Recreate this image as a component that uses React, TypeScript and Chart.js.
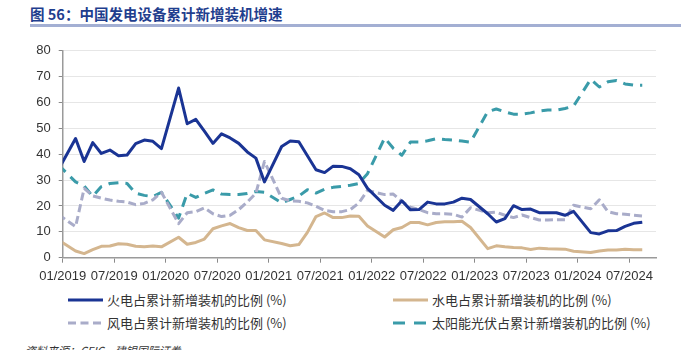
import React, { useEffect, useRef } from "react";
import { Chart, registerables } from "chart.js";

Chart.register(...registerables);

const title = "图 56：中国发电设备累计新增装机增速";
const source = "资料来源：CEIC，建银国际证券";

const months = [
  "2018-12",
  "2019-02", "2019-03", "2019-04", "2019-05", "2019-06", "2019-07", "2019-08", "2019-09", "2019-10", "2019-11", "2019-12",
  "2020-02", "2020-03", "2020-04", "2020-05", "2020-06", "2020-07", "2020-08", "2020-09", "2020-10", "2020-11", "2020-12",
  "2021-02", "2021-03", "2021-04", "2021-05", "2021-06", "2021-07", "2021-08", "2021-09", "2021-10", "2021-11", "2021-12",
  "2022-02", "2022-03", "2022-04", "2022-05", "2022-06", "2022-07", "2022-08", "2022-09", "2022-10", "2022-11", "2022-12",
  "2023-02", "2023-03", "2023-04", "2023-05", "2023-06", "2023-07", "2023-08", "2023-09", "2023-10", "2023-11", "2023-12",
  "2024-02", "2024-03", "2024-04", "2024-05", "2024-06", "2024-07", "2024-08",
];

const thermal = [
  34.0,
  46.1, 37.2, 44.5, 40.3, 41.6, 39.4, 39.7, 44.1, 45.5, 45.0, 42.2,
  65.6, 51.8, 53.5, 48.9, 44.2, 47.9, 46.3, 44.2, 40.9, 38.5, 29.3,
  43.0, 45.1, 44.8, 39.4, 34.0, 32.9, 35.4, 35.3, 34.4, 32.1, 26.8,
  20.3, 18.3, 22.0, 18.5, 18.6, 21.5, 20.8, 20.8, 21.5, 23.0, 22.5,
  17.0, 13.8, 15.1, 20.1, 18.6, 18.8, 17.4, 17.4, 17.4, 16.4, 17.9,
  9.7, 9.2, 10.4, 10.5, 12.1, 13.3, 13.7,
];

const hydro = [
  6.9,
  2.6, 1.6, 3.1, 4.4, 4.5, 5.4, 5.2, 4.4, 4.2, 4.5, 4.2,
  7.9, 5.2, 5.9, 7.2, 11.2, 12.3, 13.2, 11.6, 10.5, 10.5, 6.9,
  5.5, 4.6, 5.1, 9.8, 15.9, 17.3, 15.5, 15.5, 16.1, 16.0, 12.3,
  8.0, 10.8, 11.7, 13.6, 13.6, 12.7, 13.6, 13.9, 13.9, 14.1, 11.7,
  3.5, 4.6, 4.2, 3.9, 3.8, 3.2, 3.7, 3.5, 3.4, 3.3, 2.5,
  2.0, 2.6, 3.0, 3.0, 3.3, 3.1, 3.1,
];

const wind = [
  16.7,
  12.0, 26.8, 23.9, 23.0, 22.3, 21.8, 21.5, 20.5, 21.0, 22.4, 25.3,
  13.2, 17.4, 17.8, 19.3, 17.0, 15.9, 16.4, 18.6, 21.5, 24.9, 37.2,
  23.0, 22.0, 21.8, 21.2, 19.9, 18.3, 17.8, 17.8, 18.6, 21.2, 26.0,
  24.4, 24.6, 21.8, 19.5, 18.6, 17.4, 17.0, 17.0, 16.8, 15.7, 19.3,
  17.4, 17.6, 16.4, 15.5, 16.5, 15.5, 14.6, 14.6, 14.7, 14.7, 20.3,
  18.9, 22.4, 17.8, 17.0, 16.8, 16.4, 16.1,
];

const solar = [
  35.9,
  29.3, 27.8, 23.7, 27.5, 28.7, 29.0, 28.7, 24.9, 24.1, 23.6, 25.3,
  15.3, 24.9, 23.3, 24.9, 26.2, 24.6, 24.4, 24.4, 24.8, 25.6, 25.3,
  21.2, 22.5, 23.8, 26.3, 25.0, 26.5, 27.2, 27.6, 28.0, 28.7, 32.5,
  46.3, 42.3, 39.6, 44.7, 44.7, 45.2, 46.0, 45.7, 45.5, 45.1, 44.7,
  56.5, 57.5, 56.4, 55.5, 55.5, 56.0, 56.7, 57.1, 57.1, 57.7, 58.6,
  69.0, 66.0, 68.0, 68.5, 67.2, 66.7, 66.7,
];

const tickLabels = [
  "01/2019", "07/2019", "01/2020", "07/2020", "01/2021", "07/2021",
  "01/2022", "07/2022", "01/2023", "07/2023", "01/2024", "07/2024",
];

const seriesNames = [
  "火电占累计新增装机的比例 (%)",
  "水电占累计新增装机的比例 (%)",
  "风电占累计新增装机的比例 (%)",
  "太阳能光伏占累计新增装机的比例 (%)",
];

const COLORS = ["#1A3494", "#D4B68F", "#A9ACC9", "#3A9BA9"];
const DASHES: number[][] = [[], [], [8, 4], [10, 7]];
const LEGEND_DASH = ["", "", "8 4.5", "12 9"];

// month label -> position on the month axis (0 = start of 01/2019), plotted mid-month
const monthPos = (label: string) => {
  const [y, m] = label.split("-").map(Number);
  return (y - 2019) * 12 + (m - 1) + 0.5;
};

const FONT = "'Liberation Sans', Arial, sans-serif";
const CJK = "'Noto Sans CJK SC', 'Liberation Sans', sans-serif";

export default function App() {
  const ref = useRef<HTMLCanvasElement>(null);

  useEffect(() => {
    const series = [thermal, hydro, wind, solar];
    const chart = new Chart(ref.current!, {
      type: "line",
      data: {
        datasets: series.map((vals, i) => ({
          label: seriesNames[i],
          data: vals.map((v, j) => ({ x: monthPos(months[j]), y: v })),
          borderColor: COLORS[i],
          backgroundColor: COLORS[i],
          borderWidth: 3,
          borderDash: DASHES[i],
          borderJoinStyle: "round" as const,
          pointRadius: 0,
          tension: 0,
          fill: false,
          clip: 0,
        })),
      },
      options: {
        animation: false,
        responsive: false,
        maintainAspectRatio: false,
        layout: { padding: { left: 0, right: 25, top: 10.7, bottom: 0 } },
        plugins: { legend: { display: false }, tooltip: { enabled: false } },
        scales: {
          x: {
            type: "linear",
            min: 0,
            max: 69.1,
            afterFit: (s: any) => {
              s.height = 27.3;
            },
            border: { display: true, color: "#9A9A9A", width: 1.5 },
            grid: {
              display: true,
              drawOnChartArea: false,
              drawTicks: true,
              tickLength: 5,
              tickColor: "#8A8A8A",
              lineWidth: 1,
            },
            ticks: {
              stepSize: 6,
              includeBounds: false,
              autoSkip: false,
              maxRotation: 0,
              minRotation: 0,
              padding: 6,
              color: "#333333",
              font: { family: FONT, size: 13 },
              callback: (v: any) => tickLabels[Math.round(Number(v) / 6)] ?? "",
            },
          },
          y: {
            min: 0,
            max: 80,
            afterFit: (s: any) => {
              s.width = 62.7;
            },
            border: { display: true, color: "#9A9A9A", width: 1.5 },
            grid: {
              color: "#E6E6E6",
              lineWidth: 1,
              drawTicks: true,
              tickLength: 4,
              tickColor: "#8A8A8A",
            },
            ticks: {
              stepSize: 10,
              padding: 8,
              color: "#333333",
              font: { family: FONT, size: 13 },
            },
          },
        },
      },
    });
    return () => chart.destroy();
  }, []);

  const legendPos = [
    { x: 68, y: 300 },
    { x: 393, y: 300 },
    { x: 68, y: 323 },
    { x: 393, y: 323 },
  ];

  return (
    <div
      style={{
        position: "absolute",
        left: 0,
        top: 0,
        width: 681,
        height: 350,
        overflow: "hidden",
        background: "#FFFFFF",
      }}
    >
      <div
        style={{
          position: "absolute",
          left: 30,
          top: 5,
          fontFamily: CJK,
          fontWeight: 700,
          fontSize: 14.5,
          lineHeight: "18px",
          color: "#1F3E8E",
          whiteSpace: "nowrap",
        }}
      >
        {title}
      </div>
      <div
        style={{
          position: "absolute",
          left: 30,
          top: 24,
          width: 651,
          height: 2.5,
          background: "#A3AFD3",
        }}
      />
      <canvas
        ref={ref}
        width={681}
        height={250}
        style={{ position: "absolute", left: 0, top: 35, width: 681, height: 250 }}
      />
      {seriesNames.map((name, i) => (
        <div
          key={name}
          style={{
            position: "absolute",
            left: legendPos[i].x,
            top: legendPos[i].y - 9,
            height: 18,
            display: "flex",
            alignItems: "center",
            whiteSpace: "nowrap",
          }}
        >
          <svg width={35} height={6} style={{ display: "block" }}>
            <line
              x1={0}
              y1={3}
              x2={35}
              y2={3}
              stroke={COLORS[i]}
              strokeWidth={3}
              strokeDasharray={LEGEND_DASH[i] || undefined}
            />
          </svg>
          <span
            style={{
              marginLeft: 4,
              fontFamily: CJK,
              fontSize: 13,
              lineHeight: "18px",
              color: "#333333",
            }}
          >
            {name}
          </span>
        </div>
      ))}
      <div
        style={{
          position: "absolute",
          left: 25,
          top: 343,
          fontFamily: CJK,
          fontSize: 11,
          lineHeight: "14px",
          fontStyle: "italic",
          color: "#333333",
          whiteSpace: "nowrap",
        }}
      >
        {source}
      </div>
    </div>
  );
}
